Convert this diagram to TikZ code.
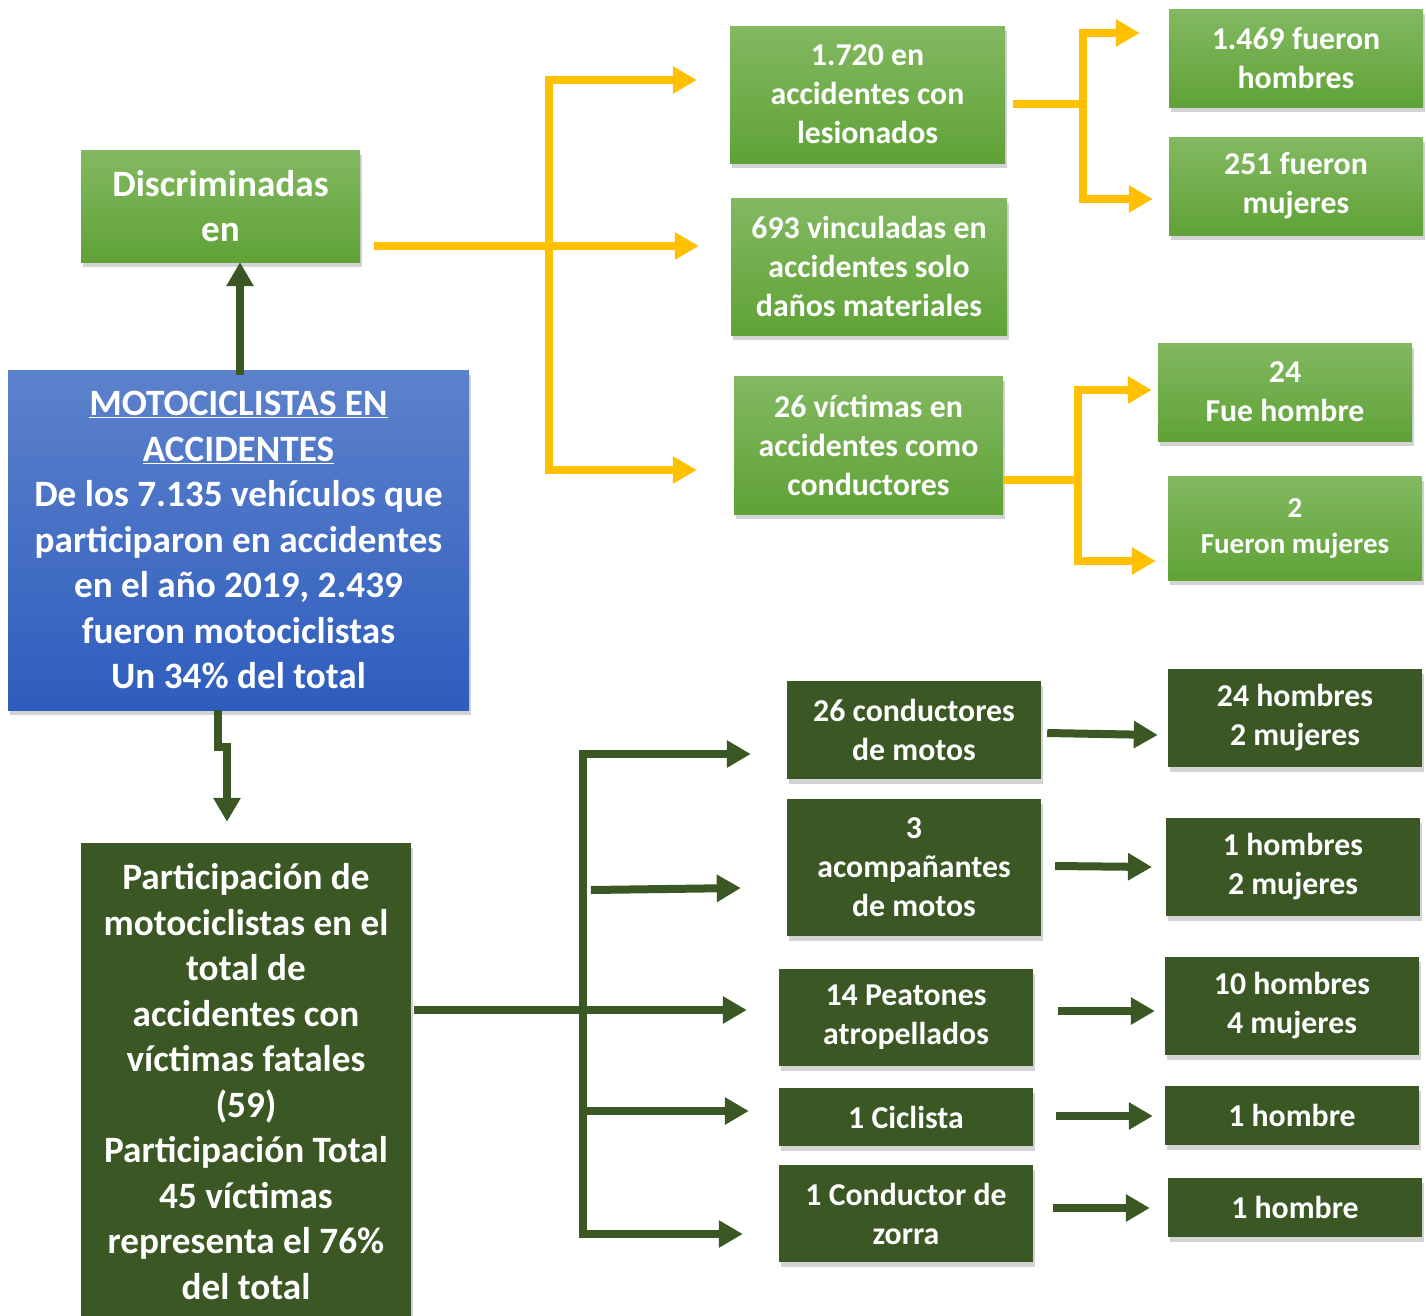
\documentclass[tikz,border=0pt]{standalone}
\usepackage{fontspec}
\setmainfont{Carlito}
\usetikzlibrary{arrows.meta,calc,shadows}
\definecolor{lgtop}{HTML}{82B961}
\definecolor{lgbot}{HTML}{60A237}
\definecolor{btop}{HTML}{5D82CC}
\definecolor{bbot}{HTML}{2E5DBD}
\definecolor{dgreen}{HTML}{3A5724}
\definecolor{amber}{HTML}{FFC000}
\begin{document}
\begin{tikzpicture}[x=1pt, y=-1pt,
	box/.style={text=white, align=center, inner sep=0pt,
		drop shadow={shadow xshift=2pt, shadow yshift=-5pt, opacity=0.35}},
	lgbox/.style={box, top color=lgtop, bottom color=lgbot},
	dgbox/.style={box, fill=dgreen},
	big/.style={font=\fontsize{37.2}{45.5}\selectfont\bfseries},
	mid/.style={font=\fontsize{31.8}{39}\selectfont\bfseries},
	yline/.style={draw=amber, line width=8pt},
	yarr/.style={yline, -{Triangle[length=24pt,width=26pt]}},
	gline/.style={draw=dgreen, line width=8pt},
	garr/.style={gline, -{Triangle[length=24pt,width=26pt]}}]
	\useasboundingbox (0,0) rectangle (1426,1315);
	% upper branch
	\node[lgbox, big, minimum width=279pt, minimum height=112pt] (discr) at (220.5,206) {Discriminadas\\en};
	\node[box, big, top color=btop, bottom color=bbot, minimum width=461pt, minimum height=340pt] (moto) at (238.5,540)
		{\underline{MOTOCICLISTAS EN}\\\underline{ACCIDENTES}\\De los 7.135 vehículos que\\participaron en accidentes\\en el año 2019, 2.439\\fueron motociclistas\\Un 34\% del total};
	\node[lgbox, mid, minimum width=275pt, minimum height=137pt] (lesion) at (867.5,94.5) {1.720 en\\accidentes con\\lesionados};
	\node[lgbox, mid, minimum width=276pt, minimum height=137pt] (danos) at (869,266.5) {693 vinculadas en\\accidentes solo\\daños materiales};
	\node[lgbox, mid, minimum width=269pt, minimum height=138pt] (victimas) at (868.5,445) {26 víctimas en\\accidentes como\\conductores};
	\node[lgbox, mid, minimum width=254pt, minimum height=98pt] (hom1) at (1296,58) {1.469 fueron\\hombres};
	\node[lgbox, mid, minimum width=254pt, minimum height=98pt] (muj1) at (1296,186) {251 fueron\\mujeres};
	\node[lgbox, mid, minimum width=254pt, minimum height=98pt] (hom2) at (1285,392) {24\\Fue hombre};
	\node[lgbox, font=\fontsize{29}{36}\selectfont\bfseries, minimum width=254pt, minimum height=104pt] (muj2) at (1295,528) {2\\Fueron mujeres};
	% lower branch
	\node[dgbox, big, minimum width=330pt, minimum height=477pt] (partic) at (246,1081.5)
		{Participación de\\motociclistas en el\\total de\\accidentes con\\víctimas fatales\\(59)\\Participación Total\\45 víctimas\\representa el 76\%\\del total};
	\node[dgbox, mid, minimum width=254pt, minimum height=98pt] (cond) at (914,730) {26 conductores\\de motos};
	\node[dgbox, mid, minimum width=254pt, minimum height=137pt] (acomp) at (914,867.5) {3\\acompañantes\\de motos};
	\node[dgbox, mid, minimum width=254pt, minimum height=97pt] (peat) at (906,1017.5) {14 Peatones\\atropellados};
	\node[dgbox, mid, minimum width=254pt, minimum height=58pt] (cicl) at (906,1117) {1 Ciclista};
	\node[dgbox, mid, minimum width=254pt, minimum height=97pt] (zorra) at (906,1213.5) {1 Conductor de\\zorra};
	\node[dgbox, mid, minimum width=254pt, minimum height=98pt] (r1) at (1295,718) {24 hombres\\2 mujeres};
	\node[dgbox, mid, minimum width=254pt, minimum height=98pt] (r2) at (1293,867) {1 hombres\\2 mujeres};
	\node[dgbox, mid, minimum width=254pt, minimum height=98pt] (r3) at (1292,1006) {10 hombres\\4 mujeres};
	\node[dgbox, mid, minimum width=254pt, minimum height=59pt] (r4) at (1292,1115.5) {1 hombre};
	\node[dgbox, mid, minimum width=254pt, minimum height=59pt] (r5) at (1295,1207.5) {1 hombre};
	% yellow connectors
	\coordinate (yb1) at (549,246);
	\coordinate (yb2) at (1083,104);
	\coordinate (yb3) at (1078,480);
	\draw[yline] ($(discr.east)+(14,40)$) -- (yb1);
	\draw[yarr] (yb1) -- ($(danos.west)+(-32,-20.5)$);
	\draw[yarr] (yb1) |- ($(lesion.west)+(-33,-14.5)$);
	\draw[yarr] (yb1) |- ($(victimas.west)+(-37,25)$);
	\draw[yline] ($(lesion.east)+(8,9.5)$) -- (yb2);
	\draw[yarr] (yb2) |- ($(hom1.west)+(-29,-25)$);
	\draw[yarr] (yb2) |- ($(muj1.west)+(-16,13)$);
	\draw[yline] (victimas.east |- yb3) -- (yb3);
	\draw[yarr] (yb3) |- ($(hom2.west)+(-6,-2)$);
	\draw[yarr] (yb3) |- ($(muj2.west)+(-12,33)$);
	% green connectors
	\coordinate (gb) at (583,1010);
	\draw[garr] ($(moto.north)+(1.5,5)$) -- ($(discr.south)+(19.5,0)$);
	\draw[garr] ($(moto.south)+(-21,0)$) -- ++(0,37) -| ($(partic.north)+(-19,-21)$);
	\draw[gline] ($(partic.east)+(3,-71.5)$) -- (gb);
	\draw[garr] (gb) -- ($(peat.west)+(-32,-7.5)$);
	\draw[garr] (gb) |- ($(cond.west)+(-36,24)$);
	\draw[garr] (gb) |- ($(cicl.west)+(-30,-6)$);
	\draw[garr] (gb) |- ($(zorra.west)+(-36,20.5)$);
	\draw[garr] ($(acomp.west)+(-196,22.5)$) -- ($(acomp.west)+(-46,20.5)$);
	\draw[garr] ($(cond.east)+(6,3)$) -- ($(r1.west)+(-10,17)$);
	\draw[garr] ($(acomp.east)+(14,-1.5)$) -- (r2.west -| 1152,0);
	\draw[garr] ($(peat.east)+(25,-6.5)$) -- ($(r3.west)+(-10,5)$);
	\draw[garr] ($(cicl.east)+(23,-1)$) -- ($(r4.west)+(-12,0.5)$);
	\draw[garr] ($(zorra.east)+(20,-5.5)$) -- ($(r5.west)+(-18,0.5)$);
\end{tikzpicture}
\end{document}
